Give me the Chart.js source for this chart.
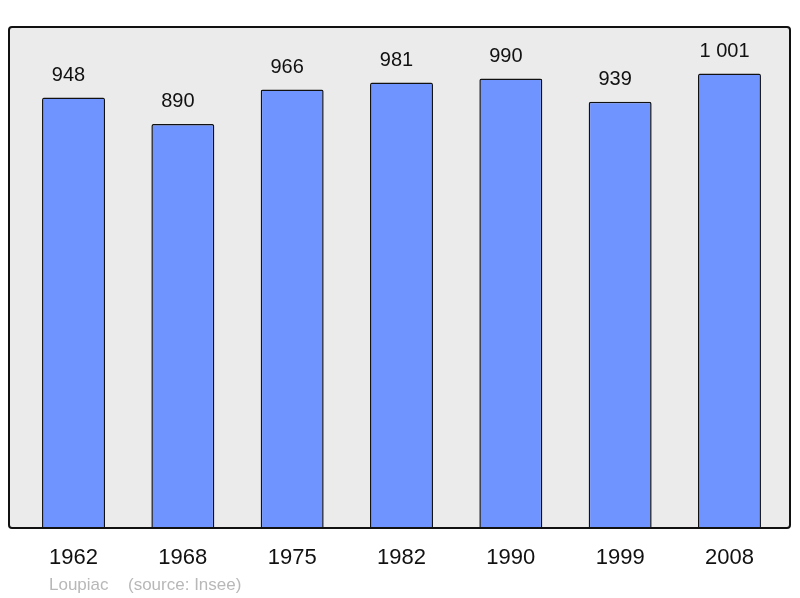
<!DOCTYPE html>
<html>
<head>
<meta charset="utf-8">
<script src="https://cdn.jsdelivr.net/npm/chart.js@4/dist/chart.umd.min.js"></script>
<style>
html,body{margin:0;padding:0;background:#fff;}
#wrap{width:800px;height:598px;position:relative;}
</style>
</head>
<body>
<div id="wrap"><canvas id="c" width="800" height="598"></canvas></div>
<script>
const years = ["1962","1968","1975","1982","1990","1999","2008"];
const population = [948, 890, 966, 981, 990, 939, 1001];
const placeName = "Loupiac";
const sourceText = "(source: Insee)";

function fmt(v){ return String(v).replace(/\B(?=(\d{3})+(?!\d))/g, " "); }

const framePlugin = {
  id: 'frame',
  beforeDatasetsDraw(chart){
    const ctx = chart.ctx;
    ctx.save();
    ctx.beginPath();
    ctx.roundRect(9, 27, 781, 501, 3);
    ctx.fillStyle = '#ebebeb';
    ctx.fill();
    ctx.restore();
  },
  afterDatasetsDraw(chart){
    const ctx = chart.ctx;
    ctx.save();
    ctx.beginPath();
    ctx.roundRect(9, 27, 781, 501, 3);
    ctx.lineWidth = 2;
    ctx.strokeStyle = '#111';
    ctx.stroke();
    // value labels
    const meta = chart.getDatasetMeta(0);
    ctx.fillStyle = '#111';
    ctx.font = '20px "Liberation Sans", Arial, sans-serif';
    ctx.textAlign = 'center';
    ctx.textBaseline = 'middle';
    meta.data.forEach((bar, i) => {
      ctx.fillText(fmt(population[i]), bar.x - 5, bar.y - 22);
    });
    // source
    ctx.fillStyle = '#b8b8b8';
    ctx.font = '17px "Liberation Sans", Arial, sans-serif';
    ctx.textAlign = 'left';
    ctx.fillText(placeName, 49, 585);
    ctx.fillText(sourceText, 128, 585);
    ctx.restore();
  }
};

new Chart(document.getElementById('c'), {
  type: 'bar',
  data: {
    labels: years,
    datasets: [{
      data: population,
      backgroundColor: '#7094ff',
      borderColor: '#111',
      borderWidth: 1.5,
      borderRadius: 2,
      borderSkipped: 'start',
      barPercentage: 0.576,
      categoryPercentage: 1.0
    }]
  },
  options: {
    responsive: false,
    animation: false,
    devicePixelRatio: 1,
    layout: { padding: { left: 18.85, right: 15.85, top: 27, bottom: 0 } },
    plugins: { legend: { display: false }, tooltip: { enabled: false } },
    scales: {
      y: { display: false, min: 0, max: 1103.5 },
      x: {
        grid: { display: false },
        border: { display: false },
        ticks: {
          color: '#111',
          padding: 9,
          font: { family: '"Liberation Sans", Arial, sans-serif', size: 22 }
        },
        afterFit(scale){ scale.height = 70; }
      }
    }
  },
  plugins: [framePlugin]
});
</script>
</body>
</html>
